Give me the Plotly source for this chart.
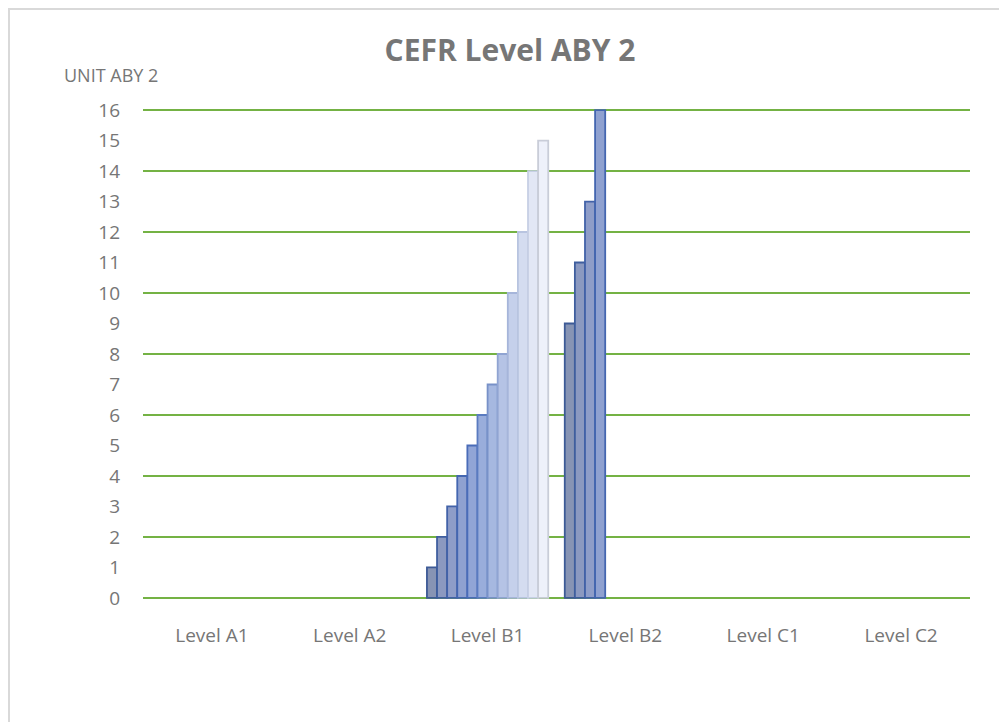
import plotly.graph_objects as go

# ---- data ----
categories = ["Level A1", "Level A2", "Level B1", "Level B2", "Level C1", "Level C2"]
series_names = [f"Series {i}" for i in range(1, 13)]
# values per series for each category (None = no bar)
series_values = [
    [None, None, 1, 9, None, None],
    [None, None, 2, 11, None, None],
    [None, None, 3, 13, None, None],
    [None, None, 4, 16, None, None],
    [None, None, 5, None, None, None],
    [None, None, 6, None, None, None],
    [None, None, 7, None, None, None],
    [None, None, 8, None, None, None],
    [None, None, 10, None, None, None],
    [None, None, 12, None, None, None],
    [None, None, 14, None, None, None],
    [None, None, 15, None, None, None],
]
y_ticks = list(range(0, 17))

fill_colors = ["#8794b4", "#8b99c0", "#8e9dc8", "#8fa1d0", "#91a5d6", "#99addb",
               "#a6b8e0", "#b5c3e5", "#c5d0eb", "#d4dcf0", "#e2e7f5", "#eef1fa"]
line_colors = ["#3d5a96", "#3f5e9e", "#4262a8", "#4466b0", "#4a6cb8", "#5a7bc0",
               "#7891c8", "#90a4d2", "#a6b5da", "#b8c4e0", "#c6cfe5", "#c9cdd8"]

W, H = 1007, 722
ML, MR, MT, MB = 135, 45, 99, 129
YR = [-0.1, 16.1]

fig = go.Figure()
for name, vals, fc, lc in zip(series_names, series_values, fill_colors, line_colors):
    fig.add_trace(go.Bar(
        x=categories, y=vals, name=name,
        marker=dict(color=fc, line=dict(color=lc, width=1.8)),
        showlegend=False,
    ))

FONT = "Open Sans, Noto Sans, sans-serif"
pw = W - ML - MR
ph = H - MT - MB

fig.update_layout(
    width=W, height=H,
    margin=dict(l=ML, r=MR, t=MT, b=MB),
    paper_bgcolor="white", plot_bgcolor="white",
    barmode="group", bargap=0.12, bargroupgap=0,
    font=dict(family=FONT, color="#767676"),
    title=dict(text="<b>CEFR Level ABY 2</b>", x=(510 - 8) / W, xanchor="center",
               y=1 - (50 - 8) / H, yanchor="middle",
               font=dict(size=30, color="#767676", family=FONT)),
    xaxis=dict(showgrid=False, showline=False, zeroline=False,
               tickfont=dict(size=19, color="#767676"),
               ticklabelstandoff=21, ticks=""),
    yaxis=dict(range=YR, dtick=2, showgrid=True, gridcolor="#74b244",
               gridwidth=2, showticklabels=False, zeroline=False, ticks=""),
    yaxis2=dict(range=YR, tickvals=y_ticks, overlaying="y", side="left",
                showgrid=False, zeroline=False, ticks="",
                tickfont=dict(size=19, color="#767676"), ticklabelstandoff=22),
    annotations=[dict(text="UNIT ABY 2", xref="paper", yref="paper",
                      x=(62 - 8 - ML) / pw, y=1 + (MT - (75 - 8)) / ph,
                      xanchor="left", yanchor="middle", showarrow=False,
                      font=dict(size=18, color="#767676", family=FONT))],
    shapes=[dict(type="rect", xref="paper", yref="paper",
                 x0=(1 - ML) / pw, x1=(W + 10 - ML) / pw,
                 y0=-(MB + 10) / ph, y1=1 + (MT - 1) / ph,
                 line=dict(color="#d9d9d9", width=2))],
)
# invisible trace on yaxis2 so its labels render
fig.add_trace(go.Scatter(x=[categories[0]], y=[0], yaxis="y2", mode="markers",
                         marker=dict(opacity=0), showlegend=False, hoverinfo="skip"))

fig.write_html("out.html")
